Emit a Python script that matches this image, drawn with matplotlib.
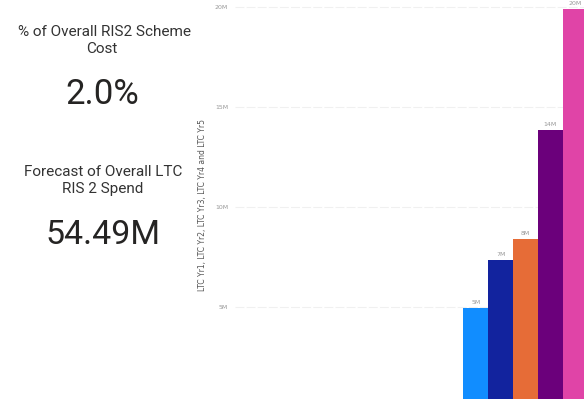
import matplotlib.pyplot as plt

# yearly LTC spend, in millions
years = ['LTC Yr1', 'LTC Yr2', 'LTC Yr3', 'LTC Yr4', 'LTC Yr5']
spend = [4.97, 7.37, 8.40, 13.85, 19.90]
bar_colors = ['#118DFF', '#12239E', '#E66C37', '#6B007B', '#E044A7']
yticks = [5, 10, 15, 20]

scheme_share = 2.0  # % of overall RIS2 scheme cost
total_spend = sum(spend)

W, H = 584, 399
fig = plt.figure(figsize=(W / 100, H / 100), dpi=100)
fig.patch.set_facecolor('white')

kpi_font = ['Roboto', 'DejaVu Sans']

# KPI cards on the left
fig.text(104 / W, 1 - 32 / H, '% of Overall RIS2 Scheme', ha='center', va='center',
         fontsize=11, color='#333333', family=kpi_font)
fig.text(102 / W, 1 - 49 / H, 'Cost', ha='center', va='center',
         fontsize=11, color='#333333', family=kpi_font)
fig.text(102 / W, 1 - 95 / H, '{:.1f}%'.format(scheme_share), ha='center', va='center',
         fontsize=25, color='#252423', family=kpi_font)
fig.text(103 / W, 1 - 172 / H, 'Forecast of Overall LTC', ha='center', va='center',
         fontsize=11, color='#333333', family=kpi_font)
fig.text(103 / W, 1 - 189 / H, 'RIS 2 Spend', ha='center', va='center',
         fontsize=11, color='#333333', family=kpi_font)
fig.text(103.5 / W, 1 - 235 / H, '{:.2f}M'.format(total_spend), ha='center', va='center',
         fontsize=24.5, color='#252423', family=kpi_font)

# column chart, runs off the right edge
ax = fig.add_axes([235 / W, 0, (W - 235) / W, 1])
x = list(range(len(years)))
ax.bar(x, spend, width=1.0, color=bar_colors, zorder=2)
for xi, v in zip(x, spend):
    ax.text(xi, v + 0.15, '{:.0f}M'.format(v), ha='center', va='bottom',
            fontsize=4.5, color='#999999')

ax.set_xlim(-9.71, 4.36)
ax.set_ylim(0.415, 20.365)
ax.set_yticks(yticks)
ax.set_yticklabels(['{}M'.format(t) for t in yticks])
ax.tick_params(axis='y', length=0, pad=5, labelsize=4.5, labelcolor='#999999')
ax.tick_params(axis='x', bottom=False, labelbottom=False)
ax.grid(axis='y', color='#f0f0f0', linestyle=(0, (8, 2)), linewidth=0.8, zorder=0)
for s in ax.spines.values():
    s.set_visible(False)

fig.text(203 / W, 1 - 205 / H, ', '.join(years[:-1]) + ' and ' + years[-1],
         rotation=90, ha='center', va='center', fontsize=5.5, color='#555555')

fig.savefig('out.png', dpi=100, facecolor='white')
